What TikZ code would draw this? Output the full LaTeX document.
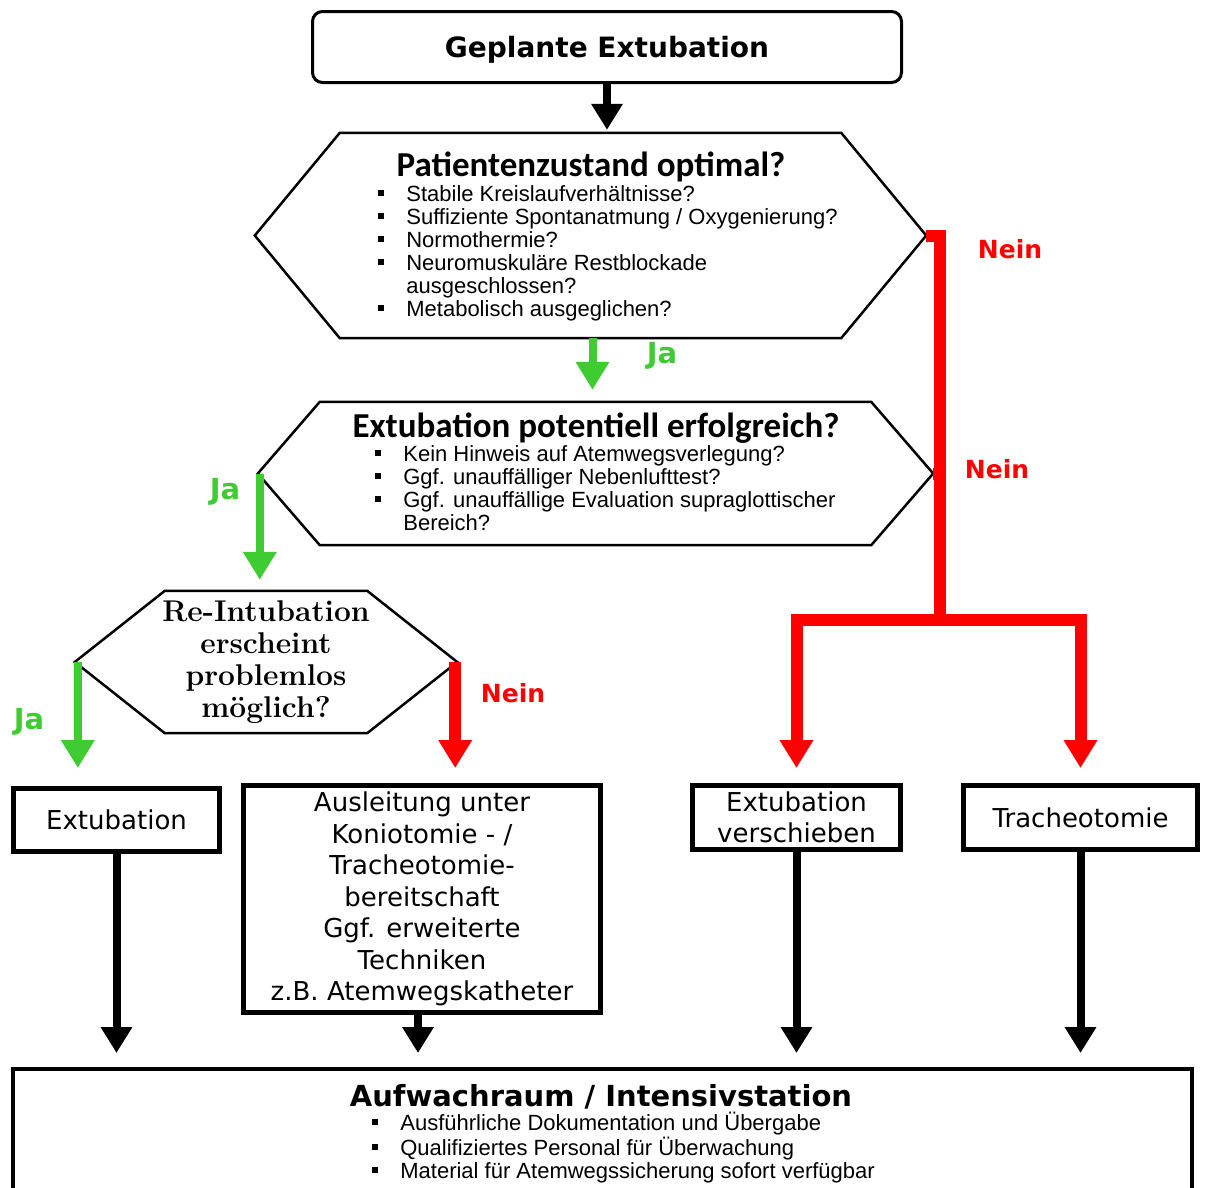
\documentclass[tikz,border=0pt]{standalone}
\usepackage{fontspec}
\usetikzlibrary{arrows.meta}
\newfontfamily\vfont{DejaVu Sans}
\newfontfamily\cfont{Carlito}
\newfontfamily\tfont{Liberation Sans}
\definecolor{jagreen}{RGB}{62,204,50}
\definecolor{neinred}{RGB}{255,0,0}
\newcommand\sqbul{\rule[0.22em]{0.28em}{0.28em}}
\newcommand\hexframe[2]{\draw[hex line] (#1.west) -- ([xshift=#2]#1.north west) -- ([xshift=-#2]#1.north east) -- (#1.east) -- ([xshift=-#2]#1.south east) -- ([xshift=#2]#1.south west) -- cycle;}

\begin{document}
\begin{tikzpicture}[x=1pt, y=-1pt,
    box/.style={draw, line width=5pt, font=\vfont\fontsize{26}{31.5}\selectfont, align=center, inner sep=0pt},
    hex node/.style={inner sep=0pt},
    hex line/.style={draw, line width=2.5pt, line join=miter},
    black arrow/.style={line width=8pt, -{Triangle[length=26pt,width=30pt]}},
    ja arrow/.style={jagreen, line width=8pt, -{Triangle[length=28pt,width=32pt]}},
    nein arrow/.style={neinred, line width=12pt, -{Triangle[length=28pt,width=32pt]}},
    nein line/.style={neinred, line width=12pt},
    ja label/.style={jagreen, font=\vfont\bfseries\fontsize{29}{32}\selectfont},
    nein label/.style={neinred, font=\vfont\bfseries\fontsize{25}{30}\selectfont},
    heading/.style={inner sep=0pt, font=\cfont\bfseries\fontsize{35}{40}\selectfont},
    bullets/.style={anchor=base west, inner sep=0pt, font=\tfont\fontsize{22}{23}\selectfont}]

  \useasboundingbox (0,0) rectangle (1207,1187);

  % start
  \node[draw, line width=3pt, rounded corners=10pt, minimum width=589pt, minimum height=71pt] (gepl) at (607,47) {};
  \node[inner sep=0pt, font=\vfont\bfseries\fontsize{28}{32}\selectfont] (geplT) at (607,50) {Geplante Extubation};

  % first question
  \node[hex node, minimum width=671pt, minimum height=205pt] (pat) at (590.5,235.5) {};
  \hexframe{pat}{85pt}
  \node[heading] (patH) at (591,167) {Patientenzustand optimal?};
  \node[bullets] (patL) at (378,201) {\begin{tabular}[t]{@{}l@{\hspace{22pt}}l@{}}
      \sqbul & Stabile Kreislaufverhältnisse?\\
      \sqbul & Suffiziente Spontanatmung / Oxygenierung?\\
      \sqbul & Normothermie?\\
      \sqbul & Neuromuskuläre Restblockade\\
             & ausgeschlossen?\\
      \sqbul & Metabolisch ausgeglichen?
    \end{tabular}};

  % second question
  \node[hex node, minimum width=675pt, minimum height=143pt] (ext) at (595.5,473.5) {};
  \hexframe{ext}{62pt}
  \node[heading] (extH) at (596,428) {Extubation potentiell erfolgreich?};
  \node[bullets] (extL) at (375,461) {\begin{tabular}[t]{@{}l@{\hspace{22pt}}l@{}}
      \sqbul & Kein Hinweis auf Atemwegsverlegung?\\
      \sqbul & Ggf. unauffälliger Nebenlufttest?\\
      \sqbul & Ggf. unauffällige Evaluation supraglottischer\\
             & Bereich?
    \end{tabular}};

  % third question
  \node[hex node, minimum width=382pt, minimum height=142pt, align=center,
        font=\bfseries\fontsize{30}{32}\selectfont] (reint) at (266,662)
        {Re-Intubation\\erscheint\\problemlos\\möglich?};
  \hexframe{reint}{90pt}

  % outcomes
  \node[box, minimum width=206pt, minimum height=63pt] (extu) at (116.5,820) {Extubation};
  \node[box, minimum width=357pt, minimum height=227pt] (ausl) at (422,899)
        {Ausleitung unter\\Koniotomie - /\\Tracheotomie-\\bereitschaft\\Ggf. erweiterte\\Techniken\\z.B. Atemwegskatheter};
  \node[box, minimum width=208pt, minimum height=64pt] (versch) at (796.5,817.5) {Extubation\\verschieben};
  \node[box, minimum width=234pt, minimum height=64pt] (trach) at (1080.5,817.5) {Tracheotomie};

  % end
  \node[draw, line width=4pt, minimum width=1179pt, minimum height=135pt, inner sep=0pt] (aufw) at (602.5,1136.5) {};
  \node[inner sep=0pt, font=\vfont\bfseries\fontsize{29}{32}\selectfont] (aufwH) at (601,1097) {Aufwachraum / Intensivstation};
  \node[bullets] (aufwL) at (372,1130) {\begin{tabular}[t]{@{}l@{\hspace{22pt}}l@{}}
      \sqbul & Ausführliche Dokumentation und Übergabe\\
      \sqbul & Qualifiziertes Personal für Überwachung\\
      \sqbul & Material für Atemwegssicherung sofort verfügbar
    \end{tabular}};

  % connectors
  \draw[black arrow, shorten >=3pt] (gepl.south) -- (gepl.south |- pat.north);
  \draw[ja arrow, shorten >=12pt] ([xshift=2pt]pat.south) -- ([xshift=2pt]pat.south |- ext.north);
  \draw[ja arrow, shorten >=11pt] ([xshift=2pt]ext.west) -- ([xshift=2pt]ext.west |- reint.north);
  \draw[ja arrow, shorten >=18pt] ([xshift=3pt]reint.west) -- ([xshift=3pt]reint.west |- extu.north);
  \draw[nein arrow, shorten >=15pt] ([xshift=-2pt]reint.east) -- ([xshift=-2pt]reint.east |- ausl.north);

  \coordinate (rj) at (940,620);
  \draw[nein line] (pat.east) -| (rj);
  \draw[nein line] (ext.east) -- (ext.east -| rj);
  \draw[nein arrow, shorten >=15pt] (rj) -| (versch.north);
  \draw[nein arrow, shorten >=15pt] (rj) -| (trach.north);

  \draw[black arrow, shorten >=14pt] (extu.south) -- (extu.south |- aufw.north);
  \draw[black arrow, shorten >=14pt] ([xshift=-4pt]ausl.south) -- ([xshift=-4pt]ausl.south |- aufw.north);
  \draw[black arrow, shorten >=14pt] (versch.south) -- (versch.south |- aufw.north);
  \draw[black arrow, shorten >=14pt] (trach.south) -- (trach.south |- aufw.north);

  % labels
  \node[ja label] (ja1) at (662,356) {Ja};
  \node[ja label] (ja2) at (225,492) {Ja};
  \node[ja label] (ja3) at (29,722) {Ja};
  \node[nein label] (nein1) at (1010,249) {Nein};
  \node[nein label] (nein2) at (997,469) {Nein};
  \node[nein label] (nein3) at (513,693) {Nein};
\end{tikzpicture}
\end{document}
